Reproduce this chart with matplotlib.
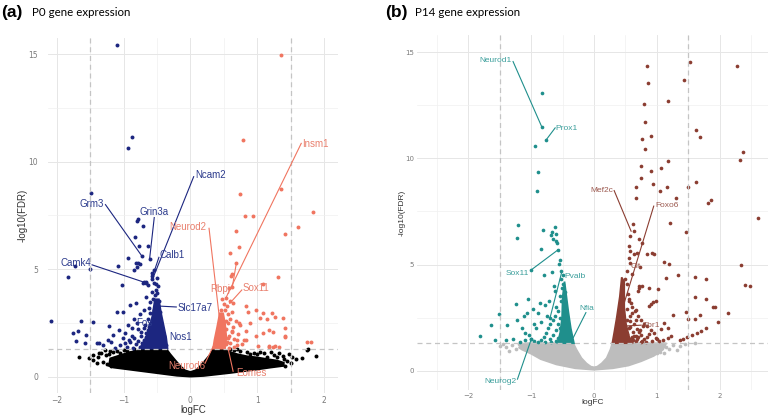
import matplotlib
matplotlib.use('Agg')
import matplotlib.pyplot as plt

# ---------------- DATA: P0 ----------------
p0_down_fc = [-1.10, -0.87, -0.94, -1.48, -0.80, -0.78, -0.71, -0.83, -0.77, -0.63, -0.73, -0.61, -0.94, -0.79,
              -0.76, -0.85, -1.50, -1.72, -1.83, -0.69, -0.66, -0.58, -0.58, -1.02, -0.71, -0.67, -0.63, -0.58,
              -0.55, -0.91, -0.81, -0.67, -0.61, -0.53, -1.10, -1.01, -2.08, -1.64, -1.45, -1.22, -1.76, -1.68,
              -1.56, -1.71, -1.58, -1.40, -1.36, -1.23, -1.18, -1.16, -1.06, -0.98, -1.01, -0.93, -1.08,
              -0.75, -0.70, -0.62, -0.57, -0.52, -0.50, -0.56, -0.48, -0.85, -0.80, -0.78, -0.88, -0.90, -0.82,
              -0.95, -1.05, -0.74, -0.68, -0.64, -0.60, -0.55, -0.72, -0.66, -0.62, -0.60, -0.50, -0.46, -0.45,
              -0.53, -0.57, -0.50, -0.42, -0.40, -0.44, -0.36, -0.39, -0.48, -0.55, -0.62, -0.68, -0.76, -0.86,
              -1.12, -1.30, -0.52, -0.50, -0.54, -0.80, -0.82, -0.92, -0.84, -0.78, -0.70, -0.66, -0.58, -0.64,
              -0.69, -0.74, -0.60, -0.56, -0.52, -0.47, -0.49, -0.43, -0.98, -0.88]
p0_down_fdr = [15.42, 11.16, 10.65, 8.56, 7.26, 7.35, 7.01, 6.48, 6.09, 6.08, 5.63, 5.46, 5.51, 5.27,
               5.24, 4.96, 4.99, 5.15, 4.65, 4.39, 4.40, 4.54, 4.70, 4.27, 4.37, 4.34, 4.27, 4.81,
               4.34, 3.35, 3.41, 3.72, 3.49, 3.80, 3.00, 3.00, 2.59, 2.59, 2.53, 2.37, 2.02, 2.14,
               1.93, 1.67, 1.55, 1.55, 1.58, 1.71, 1.63, 1.94, 2.17, 2.02, 1.79, 2.40, 5.15,
               2.90, 3.10, 3.20, 3.95, 4.05, 3.90, 3.60, 3.30, 2.70, 2.50, 2.20, 1.90, 1.60, 1.50,
               1.40, 1.45, 1.90, 2.40, 2.70, 2.95, 3.10, 1.55, 2.05, 2.30, 1.75, 2.30, 2.60, 3.00,
               2.75, 2.50, 1.90, 1.60, 1.90, 2.20, 1.45, 1.50, 1.45, 1.50, 1.45, 1.40, 1.38, 1.35,
               1.35, 1.45, 4.30, 4.60, 4.95, 5.10, 5.30, 1.70, 1.80, 1.65, 1.70, 1.85, 2.00, 2.15,
               2.25, 2.10, 2.45, 2.20, 2.85, 3.50, 4.20, 2.00, 1.55, 2.25]

p0_up_fc = [1.35, 0.79, 0.74, 1.35, 0.82, 0.94, 1.84, 1.61, 1.42, 0.68, 0.73, 0.59, 0.69, 0.61, 0.62, 0.63,
            1.31, 1.09, 0.53, 0.59, 0.84, 0.99, 1.09, 1.22, 1.26, 1.39, 1.04, 1.14, 0.74, 0.90, 1.41, 0.64,
            1.09, 1.24, 0.84, 0.99, 1.42, 1.17, 1.27, 1.32, 1.74, 1.80, 0.55, 0.52, 0.56, 0.60, 0.57, 0.62,
            0.58, 0.66, 0.60, 0.70, 0.55, 0.54, 0.50, 0.48, 0.65, 0.78, 0.72, 0.68, 0.62, 0.46, 0.58, 0.87,
            0.73, 0.63, 0.84, 1.17, 0.70, 0.80, 1.01, 1.23, 1.17, 1.42, 0.64, 0.53, 0.56, 0.51, 0.58, 0.54]
p0_up_fdr = [14.95, 11.00, 8.51, 8.72, 7.47, 7.47, 7.65, 6.98, 6.64, 6.78, 6.02, 5.77, 5.30, 4.68, 4.78, 4.16,
             4.65, 4.31, 3.65, 3.54, 3.29, 3.10, 2.98, 2.98, 2.79, 2.72, 2.72, 2.70, 2.40, 2.48, 2.25, 2.30,
             2.05, 2.10, 1.71, 1.90, 1.86, 1.43, 1.44, 1.37, 1.60, 1.60, 3.30, 3.10, 2.90, 2.70, 2.50, 2.10,
             1.90, 1.75, 1.55, 1.45, 1.60, 2.20, 3.40, 3.60, 1.40, 1.50, 2.00, 2.60, 3.00, 3.10, 4.11, 3.00,
             2.48, 2.13, 2.13, 2.17, 1.70, 1.70, 1.43, 1.40, 1.40, 1.90, 3.41, 1.50, 1.80, 2.00, 1.35, 2.60]

p0_ns_fc = [-1.51, -1.46, -1.38, -1.33, -1.26, -1.66, -1.28, -1.36, -1.20, -1.15, -1.30, -1.40, -1.22, -1.45,
            1.74, 1.76, 1.88, 1.67, 1.52, 1.39, 1.40, 1.32, 1.25, 1.14, 1.04, 1.10, 1.20, 0.95, 0.85, 0.75,
            1.45, 1.30, 1.58, 1.48, 1.35, 0.65, 0.60, -1.10, -1.00, -0.95, -0.85, -0.75, -0.65, -1.05,
            -1.25, -1.18, 0.70, 0.90, 1.00, 1.28, 1.42, 1.50]
p0_ns_fdr = [0.86, 0.78, 0.93, 1.09, 1.01, 0.93, 1.24, 1.09, 1.20, 1.15, 0.70, 0.62, 1.05, 1.00,
             1.24, 1.30, 0.96, 0.89, 0.90, 0.96, 0.81, 1.09, 1.00, 0.90, 1.16, 1.10, 1.15, 1.10, 1.15, 1.20,
             0.75, 0.90, 0.80, 1.05, 0.60, 1.25, 1.28, 1.20, 1.25, 1.18, 1.27, 1.28, 1.29, 1.10,
             0.60, 0.50, 1.28, 1.05, 1.05, 0.70, 0.50, 0.62]

# dense cores (outlines)
p0_ns_core_fc = [-1.22, -1.20, -1.05, -0.90, -0.70, -0.50, -0.36, -0.30, -0.22, -0.15, -0.08, 0.00, 0.08, 0.15,
                 0.22, 0.30, 0.34, 0.45, 0.55, 0.70, 0.85, 1.00, 1.15, 1.30, 1.40, 1.40, 1.20, 1.00, 0.80,
                 0.60, 0.40, 0.20, 0.00, -0.20, -0.40, -0.60, -0.80, -1.00, -1.15]
p0_ns_core_fdr = [0.50, 0.85, 1.00, 1.15, 1.25, 1.30, 1.30, 1.05, 0.75, 0.50, 0.30, 0.22, 0.30, 0.50,
                  0.75, 1.05, 1.30, 1.30, 1.20, 1.05, 0.95, 0.90, 0.82, 0.75, 0.65, 0.50, 0.42, 0.33, 0.25,
                  0.17, 0.10, 0.03, 0.00, 0.04, 0.12, 0.20, 0.28, 0.36, 0.42]
p0_down_core_fc = [-0.76, -0.34, -0.36, -0.40, -0.44, -0.47, -0.53, -0.57, -0.62, -0.68]
p0_down_core_fdr = [1.30, 1.30, 1.80, 2.40, 3.00, 3.60, 3.60, 2.80, 2.20, 1.70]
p0_up_core_fc = [0.34, 0.52, 0.54, 0.52, 0.49, 0.44, 0.40, 0.36]
p0_up_core_fdr = [1.30, 1.30, 1.80, 2.50, 2.95, 2.95, 2.30, 1.70]

p0_genes = ['Ncam2', 'Grm3', 'Grin3a', 'Calb1', 'Camk4', 'Slc17a7', 'Fos', 'Nos1',
            'Neurod2', 'Insm1', 'Sox11', 'Rbpj', 'Neurod6', 'Eomes']
p0_gene_dir = ['down'] * 8 + ['up'] * 6
p0_gene_fc = [-0.56, -0.73, -0.61, -0.58, -0.69, -0.51, -0.62, -0.40, 0.44, 0.53, 0.59, 0.69, 0.34, 0.57]
p0_gene_fdr = [4.58, 5.63, 5.46, 4.54, 4.39, 3.29, 2.45, 1.80, 2.60, 3.65, 3.41, 5.30, 1.40, 1.24]

# ---------------- DATA: P14 ----------------
p14_down_fc = [-0.83, -0.83, -0.76, -0.94, -0.90, -0.91, -1.21, -1.22, -0.82, -0.63, -0.67, -0.69, -0.66, -0.61,
               -0.60, -0.59, -0.84, -0.58, -0.55, -0.56, -1.01, -0.67, -0.80, -0.64, -0.62, -1.05, -1.24,
               -1.51, -1.64, -1.82, -1.58, -1.38, -1.29, -1.40, -1.22, -1.10, -1.03, -0.92, -0.90, -0.78,
               -1.07, -0.52, -0.50, -0.53, -0.49, -0.51, -0.47, -0.55, -0.52, -0.60, -0.57, -0.62, -0.66,
               -0.70, -0.73, -0.76, -0.80, -0.85, -0.95, -1.00, -0.70, -0.65, -0.60, -0.58, -0.55, -0.75,
               -0.85, -0.95, -1.15, -1.12, -0.60, -0.68, -0.78, -0.90, -1.10, -1.18, -0.98, -0.86, -0.72,
               -0.54, -0.50, -0.57, -1.00, -0.70]
p14_down_fdr = [13.05, 11.46, 10.88, 10.60, 9.34, 8.47, 6.84, 6.26, 6.62, 6.76, 6.53, 6.39, 6.22, 6.42,
                6.10, 6.00, 5.71, 5.68, 5.21, 5.01, 4.73, 4.65, 4.49, 3.99, 3.76, 3.37, 3.13,
                2.66, 2.15, 1.64, 1.46, 2.15, 1.52, 1.46, 2.40, 1.80, 1.68, 2.04, 2.71, 3.10,
                2.74, 4.70, 4.50, 4.30, 4.10, 3.90, 3.70, 3.50, 3.30, 3.00, 2.80, 2.60, 2.40,
                2.20, 2.00, 1.80, 1.60, 1.45, 1.40, 1.50, 1.50, 1.70, 1.90, 2.20, 2.50, 2.60,
                2.30, 2.20, 2.00, 2.60, 1.40, 1.35, 1.35, 1.35, 1.45, 1.38, 2.90, 3.20, 3.30,
                2.00, 1.70, 1.55, 1.49, 2.51]

p14_up_fc = [0.85, 1.53, 2.28, 0.86, 1.44, 0.80, 1.17, 0.81, 1.62, 1.68, 0.77, 0.91, 0.81, 2.37, 2.33, 0.74,
             1.07, 1.17, 0.90, 0.74, 0.94, 1.62, 0.67, 1.16, 1.50, 1.05, 0.67, 1.31, 1.81, 1.87, 2.61,
             1.21, 1.46, 0.85, 0.92, 0.95, 1.11, 1.20, 2.34, 1.33, 1.14, 1.61, 1.78, 2.40, 2.48, 0.72,
             0.76, 0.88, 1.02, 0.70, 1.61, 1.78, 0.99, 0.94, 0.90, 0.88, 1.89, 1.92, 2.14, 1.25, 1.46,
             1.49, 1.60, 1.69, 1.98, 1.11, 1.18, 1.07, 1.78, 1.70, 1.64, 1.56, 1.48, 1.42, 1.37, 1.23,
             1.17, 1.09, 0.62, 0.63, 0.58, 0.72, 0.76, 0.56, 0.58, 0.63, 0.55, 0.58, 0.69, 0.73, 0.53,
             0.61, 0.50, 0.53, 0.72, 0.55, 0.60, 0.65, 0.70, 0.75, 0.80, 0.85, 0.90, 0.95, 0.52, 0.58,
             0.64, 0.68, 0.74, 0.79, 0.84, 0.88, 0.98, 1.03, 0.55, 0.62, 0.67, 0.71, 0.77, 0.82, 0.93,
             1.00, 0.50, 0.54, 0.59, 0.66, 0.60, 0.57, 0.66, 0.56, 0.61, 0.66, 0.70, 0.75, 0.53, 0.57,
             0.62, 0.68, 0.73, 0.78, 0.60, 0.64, 0.52, 0.56]
p14_up_fdr = [14.34, 14.51, 14.34, 13.52, 13.68, 12.55, 12.68, 11.72, 11.35, 11.00, 10.92, 11.07, 10.46,
              10.31, 9.91, 9.66, 9.56, 9.88, 9.42, 9.05, 8.80, 8.87, 8.67, 8.64, 8.64, 8.44, 8.12, 8.12,
              7.89, 8.05, 7.20, 6.97, 6.51, 5.48, 5.56, 5.48, 5.12, 5.01, 4.96, 4.49, 4.38, 4.41, 4.31,
              4.02, 4.01, 3.99, 3.99, 3.92, 3.84, 3.75, 3.48, 3.40, 3.29, 3.24, 3.13, 3.05, 3.02, 3.02,
              2.71, 2.62, 2.77, 2.46, 2.46, 2.65, 2.30, 2.27, 2.02, 1.96, 2.04, 1.88, 1.77, 1.68, 1.57,
              1.48, 1.43, 1.62, 1.54, 1.45, 6.89, 6.60, 6.34, 6.18, 6.03, 5.87, 5.64, 5.48, 5.33, 5.09,
              5.56, 4.87, 4.71, 4.56, 4.33, 4.10, 3.90, 3.30, 3.00, 2.80, 2.60, 2.40, 2.20, 2.10, 1.90,
              1.80, 2.90, 2.60, 2.20, 1.95, 1.70, 1.50, 1.60, 1.75, 1.55, 1.40, 2.00, 1.45, 1.65, 1.85,
              1.40, 1.35, 1.40, 1.50, 1.70, 3.60, 3.20, 2.40, 1.60, 2.05, 2.85, 1.45, 1.55, 1.40, 1.60,
              1.38, 1.75, 2.35, 1.85, 1.50, 1.90, 2.10, 2.70, 1.65, 2.40, 3.40]

p14_ns_fc = [-1.40, -1.45, -1.30, -1.25, -1.35, -1.50, -1.20, 1.37, 1.32, 1.11, 1.25, 1.20, 1.61, 1.45,
             1.05, 1.15, 1.00, -1.15, -1.05, -0.95, -0.85, 0.80, 0.95, 1.08]
p14_ns_fdr = [1.10, 1.25, 1.20, 1.05, 0.95, 1.15, 1.25, 1.17, 0.96, 0.83, 1.20, 1.05, 1.33, 1.25,
              0.90, 1.10, 0.85, 1.28, 1.25, 1.29, 1.27, 1.28, 1.25, 1.27]

p14_ns_core_fc = [-1.20, -1.10, -0.33, -0.28, -0.20, -0.12, -0.05, 0.00, 0.05, 0.12, 0.20, 0.26, 0.29,
                  1.15, 1.10, 0.95, 0.75, 0.55, 0.30, 0.00, -0.30, -0.60, -0.85, -1.00, -1.15]
p14_ns_core_fdr = [1.10, 1.30, 1.30, 1.00, 0.60, 0.35, 0.20, 0.17, 0.20, 0.35, 0.60, 1.00, 1.30,
                   1.30, 1.00, 0.70, 0.45, 0.25, 0.12, 0.05, 0.12, 0.30, 0.55, 0.80, 1.00]
p14_down_core_fc = [-0.58, -0.32, -0.37, -0.41, -0.44, -0.47, -0.50, -0.51, -0.54]
p14_down_core_fdr = [1.30, 1.30, 2.00, 2.80, 3.50, 4.20, 3.50, 2.50, 1.80]
p14_up_core_fc = [0.29, 0.62, 0.56, 0.51, 0.48, 0.48, 0.44, 0.41, 0.36, 0.32]
p14_up_core_fdr = [1.30, 1.30, 1.60, 2.20, 3.00, 4.20, 4.40, 3.50, 2.50, 1.80]

p14_genes = ['Neurod1', 'Prox1', 'Sox11', 'Pvalb', 'Nfia', 'Neurog2', 'Mef2c', 'Foxo6', 'Cit', 'Tbr1']
p14_gene_dir = ['down'] * 6 + ['up'] * 4
p14_gene_fc = [-0.83, -0.76, -0.58, -0.70, -0.33, -1.00, 0.59, 0.45, 0.60, 0.50]
p14_gene_fdr = [11.46, 10.88, 5.68, 2.51, 1.57, 1.49, 6.57, 2.90, 4.90, 2.11]

fc_cut = 1.5
fdr_cut = 1.3

# ---------------- LAYOUT / STYLE ----------------
W, H = 776, 416
fig = plt.figure(figsize=(W / 100, H / 100), dpi=100)


def box(l, t, r, b):
    return [l / W, 1 - b / H, (r - l) / W, (b - t) / H]


# label placement (text anchor, alignment, segment start) -- layout only
p0_lab = {
    'Ncam2': (0.07, 9.40, 'left', (0.05, 9.30)),
    'Grm3': (-1.29, 8.05, 'right', (-1.27, 8.00)),
    'Grin3a': (-0.55, 7.65, 'center', (-0.54, 7.40)),
    'Calb1': (-0.46, 5.66, 'left', (-0.47, 5.55)),
    'Camk4': (-1.49, 5.27, 'right', (-1.47, 5.20)),
    'Slc17a7': (-0.19, 3.21, 'left', (-0.21, 3.24)),
    'Fos': (-0.81, 2.48, 'left', None),
    'Nos1': (-0.32, 1.86, 'left', None),
    'Neurod2': (0.24, 6.98, 'right', (0.28, 6.90)),
    'Insm1': (1.67, 10.82, 'left', (1.66, 10.85)),
    'Sox11': (0.78, 4.11, 'left', (0.77, 4.03)),
    'Rbpj': (0.44, 4.06, 'center', (0.63, 4.20)),
    'Neurod6': (-0.06, 0.50, 'center', (0.22, 0.62)),
    'Eomes': (0.68, 0.16, 'left', (0.64, 0.25)),
}
p14_lab = {
    'Neurod1': (-1.32, 14.59, 'right', (-1.29, 14.55)),
    'Prox1': (-0.61, 11.39, 'left', (-0.62, 11.43)),
    'Sox11': (-1.03, 4.59, 'right', (-1.01, 4.73)),
    'Pvalb': (-0.47, 4.43, 'left', (-0.52, 4.59)),
    'Nfia': (-0.23, 2.93, 'left', (-0.13, 2.74)),
    'Neurog2': (-1.24, -0.50, 'right', (-1.22, -0.39)),
    'Mef2c': (0.31, 8.50, 'right', (0.32, 8.48)),
    'Foxo6': (0.98, 7.79, 'left', (0.95, 7.75)),
    'Cit': (0.58, 4.93, 'left', None),
    'Tbr1': (0.77, 2.15, 'left', (0.75, 2.15)),
}

panels = [
    dict(rect=box(48, 38, 338, 393), xlim=(-2.13, 2.21), ylim=(-0.76, 15.75),
         xmin=[-1.5, -0.5, 0.5, 1.5], cols=('#1c2680', '#f07560', '#000000'),
         txtcols=('#2b3a8c', '#e9806e'),
         down=(p0_down_fc, p0_down_fdr), up=(p0_up_fc, p0_up_fdr), ns=(p0_ns_fc, p0_ns_fdr),
         nscore=(p0_ns_core_fc, p0_ns_core_fdr), dcore=(p0_down_core_fc, p0_down_core_fdr),
         ucore=(p0_up_core_fc, p0_up_core_fdr),
         genes=(p0_genes, p0_gene_dir, p0_gene_fc, p0_gene_fdr), lab=p0_lab,
         tick_fs=5.5, lab_fs=7, gene_fs=7, ypad=7, ms=8, tag='(a)', title='P0 gene expression',
         tag_x=1, title_x=32, ylab_x=23, xlab_y=410),
    dict(rect=box(417, 35, 768, 390), xlim=(-2.82, 2.77), ylim=(-0.90, 15.80),
         xmin=[-2.5, -1.5, -0.5, 0.5, 1.5, 2.5], cols=('#1f8f8c', '#8b3d31', '#bdbdbd'),
         txtcols=('#3a9e9b', '#9c5a50'),
         down=(p14_down_fc, p14_down_fdr), up=(p14_up_fc, p14_up_fdr), ns=(p14_ns_fc, p14_ns_fdr),
         nscore=(p14_ns_core_fc, p14_ns_core_fdr), dcore=(p14_down_core_fc, p14_down_core_fdr),
         ucore=(p14_up_core_fc, p14_up_core_fdr),
         genes=(p14_genes, p14_gene_dir, p14_gene_fc, p14_gene_fdr), lab=p14_lab,
         tick_fs=5, lab_fs=6, gene_fs=6, ypad=2, ms=7, tag='(b)', title='P14 gene expression',
         tag_x=385, title_x=415, ylab_x=402, xlab_y=403),
]

for P in panels:
    ax = fig.add_axes(P['rect'])
    ax.set_xlim(*P['xlim'])
    ax.set_ylim(*P['ylim'])
    for s in ax.spines.values():
        s.set_visible(False)
    ax.set_xticks([-2, -1, 0, 1, 2])
    ax.set_yticks([0, 5, 10, 15])
    ax.set_xticks(P['xmin'], minor=True)
    ax.set_yticks([2.5, 7.5, 12.5], minor=True)
    ax.tick_params(which='both', length=0, labelsize=P['tick_fs'], labelcolor='#7a7a7a')
    ax.tick_params(axis='x', pad=2)
    ax.tick_params(axis='y', pad=P['ypad'])
    ax.grid(which='major', color='#e6e6e6', lw=0.7)
    ax.grid(which='minor', color='#f0f0f0', lw=0.5)
    ax.set_axisbelow(True)
    dcol, ucol, ncol = P['cols']
    ax.fill(*P['nscore'], color=ncol, lw=1.2, ec=ncol, zorder=2)
    ax.scatter(*P['ns'], s=P['ms'], c=ncol, lw=0, zorder=2)
    ax.fill(*P['dcore'], color=dcol, lw=1.2, ec=dcol, zorder=3)
    ax.fill(*P['ucore'], color=ucol, lw=1.2, ec=ucol, zorder=3)
    ax.scatter(*P['down'], s=P['ms'], c=dcol, lw=0, zorder=3)
    ax.scatter(*P['up'], s=P['ms'], c=ucol, lw=0, zorder=3)
    for v in (-fc_cut, fc_cut):
        ax.axvline(v, color='#c4c4c4', lw=0.9, ls=(0, (4, 3)), zorder=4)
    ax.axhline(fdr_cut, color='#c4c4c4', lw=0.9, ls=(0, (4, 3)), zorder=4)
    names, dirs, gfc, gfdr = P['genes']
    for name, d, gx, gy in zip(names, dirs, gfc, gfdr):
        tx, ty, ha, start = P['lab'][name]
        lc = dcol if d == 'down' else ucol
        tc = P['txtcols'][0] if d == 'down' else P['txtcols'][1]
        if start is not None:
            ax.plot([start[0], gx], [start[1], gy], color=lc, lw=0.8, zorder=5)
        ax.text(tx, ty, name, ha=ha, va='center', fontsize=P['gene_fs'], color=tc,
                family='Liberation Sans', zorder=6)
    cy = P['rect'][1] + P['rect'][3] / 2
    fig.text(P['ylab_x'] / W, cy, '-log10(FDR)', rotation=90, ha='center', va='center',
             fontsize=P['lab_fs'], color='#333333', family='Liberation Sans')
    fig.text(P['rect'][0] + P['rect'][2] / 2, 1 - P['xlab_y'] / H, 'logFC', ha='center', va='center',
             fontsize=P['lab_fs'], color='#333333', family='Liberation Sans')
    fig.text(P['tag_x'] / W, 1 - 12 / H, P['tag'], ha='left', va='center', fontsize=12.5,
             fontweight='bold', family='Liberation Sans')
    fig.text(P['title_x'] / W, 1 - 13 / H, P['title'], ha='left', va='center', fontsize=8.3,
             family='Lato')

fig.savefig('out.png', dpi=100)
